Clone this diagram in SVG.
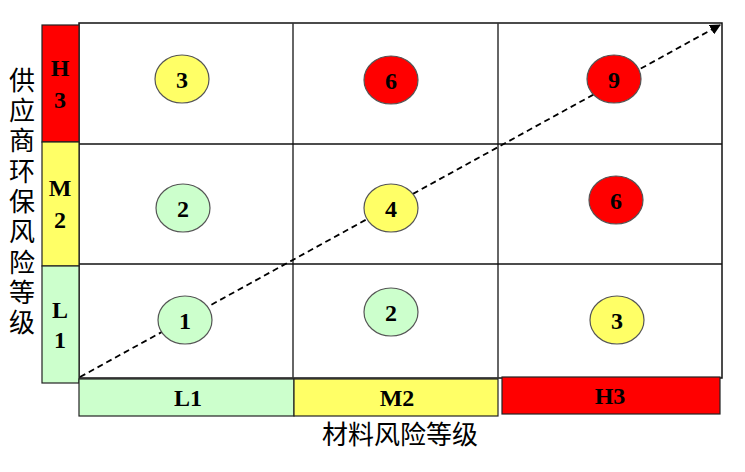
<svg xmlns="http://www.w3.org/2000/svg" width="745" height="472" viewBox="0 0 745 472">
<defs>
<style>
.red{fill:#FF0000}
.yel{fill:#FFFF66}
.grn{fill:#CCFFCC}
.bar{stroke:#222;stroke-width:1.2}
.cell{fill:#fff;stroke:#111;stroke-width:1.5}
.dot{stroke:#555;stroke-width:1.2}
.lbl{font-family:"Liberation Serif","Times New Roman",serif;font-weight:bold;font-size:24px;fill:#000;text-anchor:middle;dominant-baseline:central}
.axis{font-family:"Noto Sans CJK SC","Noto Sans CJK JP",sans-serif;font-size:26px;fill:#000;text-anchor:middle;dominant-baseline:central}
.vaxis{font-family:"Noto Sans CJK SC","Noto Sans CJK JP",sans-serif;font-size:26px;fill:#000;writing-mode:vertical-rl;letter-spacing:4.3px}
</style>
<marker id="arr" viewBox="0 0 10 10" refX="9" refY="5" markerWidth="6" markerHeight="6" markerUnits="strokeWidth" orient="auto">
<path d="M0,0 L10,5 L0,10 z" fill="#000"/>
</marker>
</defs>
<rect width="745" height="472" fill="#fff"/>
<g id="grid">
<rect class="cell" x="79" y="23" width="643" height="355"/>
<line x1="293" y1="23" x2="293" y2="378" stroke="#333" stroke-width="1.5"/>
<line x1="498" y1="23" x2="498" y2="378" stroke="#333" stroke-width="1.5"/>
<line x1="79" y1="144" x2="722" y2="144" stroke="#111" stroke-width="1.5"/>
<line x1="79" y1="264" x2="722" y2="264" stroke="#111" stroke-width="1.5"/>
</g>
<g id="y-axis-bars">
<g id="yH3"><rect class="red bar" x="42" y="25" width="37" height="117"/><text class="lbl" x="60" y="68">H</text><text class="lbl" x="60" y="100">3</text></g>
<g id="yM2"><rect class="yel bar" x="42" y="142" width="37" height="124"/><text class="lbl" x="60" y="188">M</text><text class="lbl" x="60" y="220">2</text></g>
<g id="yL1"><rect class="grn bar" x="42" y="266" width="37" height="117"/><text class="lbl" x="60" y="310">L</text><text class="lbl" x="60" y="340">1</text></g>
</g>
<g id="x-axis-bars">
<g id="xL1"><rect class="grn bar" x="79" y="379" width="215" height="37"/><text class="lbl" x="188" y="398">L1</text></g>
<g id="xM2"><rect class="yel bar" x="294" y="379" width="204" height="37"/><text class="lbl" x="397" y="398">M2</text></g>
<g id="xH3"><rect class="red bar" x="502" y="377" width="218" height="37"/><text class="lbl" x="610" y="396">H3</text></g>
</g>
<g id="connectors">
<line x1="80" y1="377" x2="720" y2="25" stroke="#000" stroke-width="1.8" stroke-dasharray="6,4" marker-end="url(#arr)"/>
</g>
<g id="n13"><ellipse class="yel dot" cx="182" cy="79" rx="27" ry="24"/><text class="lbl" x="182" y="80">3</text></g>
<g id="n23"><ellipse class="red dot" cx="391" cy="80" rx="27" ry="24"/><text class="lbl" x="391" y="81">6</text></g>
<g id="n33"><ellipse class="red dot" cx="614" cy="79" rx="27" ry="24"/><text class="lbl" x="614" y="80">9</text></g>
<g id="n12"><ellipse class="grn dot" cx="183" cy="208" rx="27" ry="24"/><text class="lbl" x="183" y="209">2</text></g>
<g id="n22"><ellipse class="yel dot" cx="391" cy="208" rx="27" ry="24"/><text class="lbl" x="391" y="209">4</text></g>
<g id="n32"><ellipse class="red dot" cx="616" cy="200" rx="27" ry="24"/><text class="lbl" x="616" y="201">6</text></g>
<g id="n11"><ellipse class="grn dot" cx="185" cy="320" rx="27" ry="24"/><text class="lbl" x="185" y="321">1</text></g>
<g id="n21"><ellipse class="grn dot" cx="391" cy="312" rx="27" ry="24"/><text class="lbl" x="391" y="313">2</text></g>
<g id="n31"><ellipse class="yel dot" cx="617" cy="320" rx="27" ry="24"/><text class="lbl" x="617" y="321">3</text></g>
<g id="y-title"><text class="vaxis" x="22" y="67">供应商环保风险等级</text></g>
<g id="x-title"><text class="axis" x="400" y="432">材料风险等级</text></g>
</svg>
